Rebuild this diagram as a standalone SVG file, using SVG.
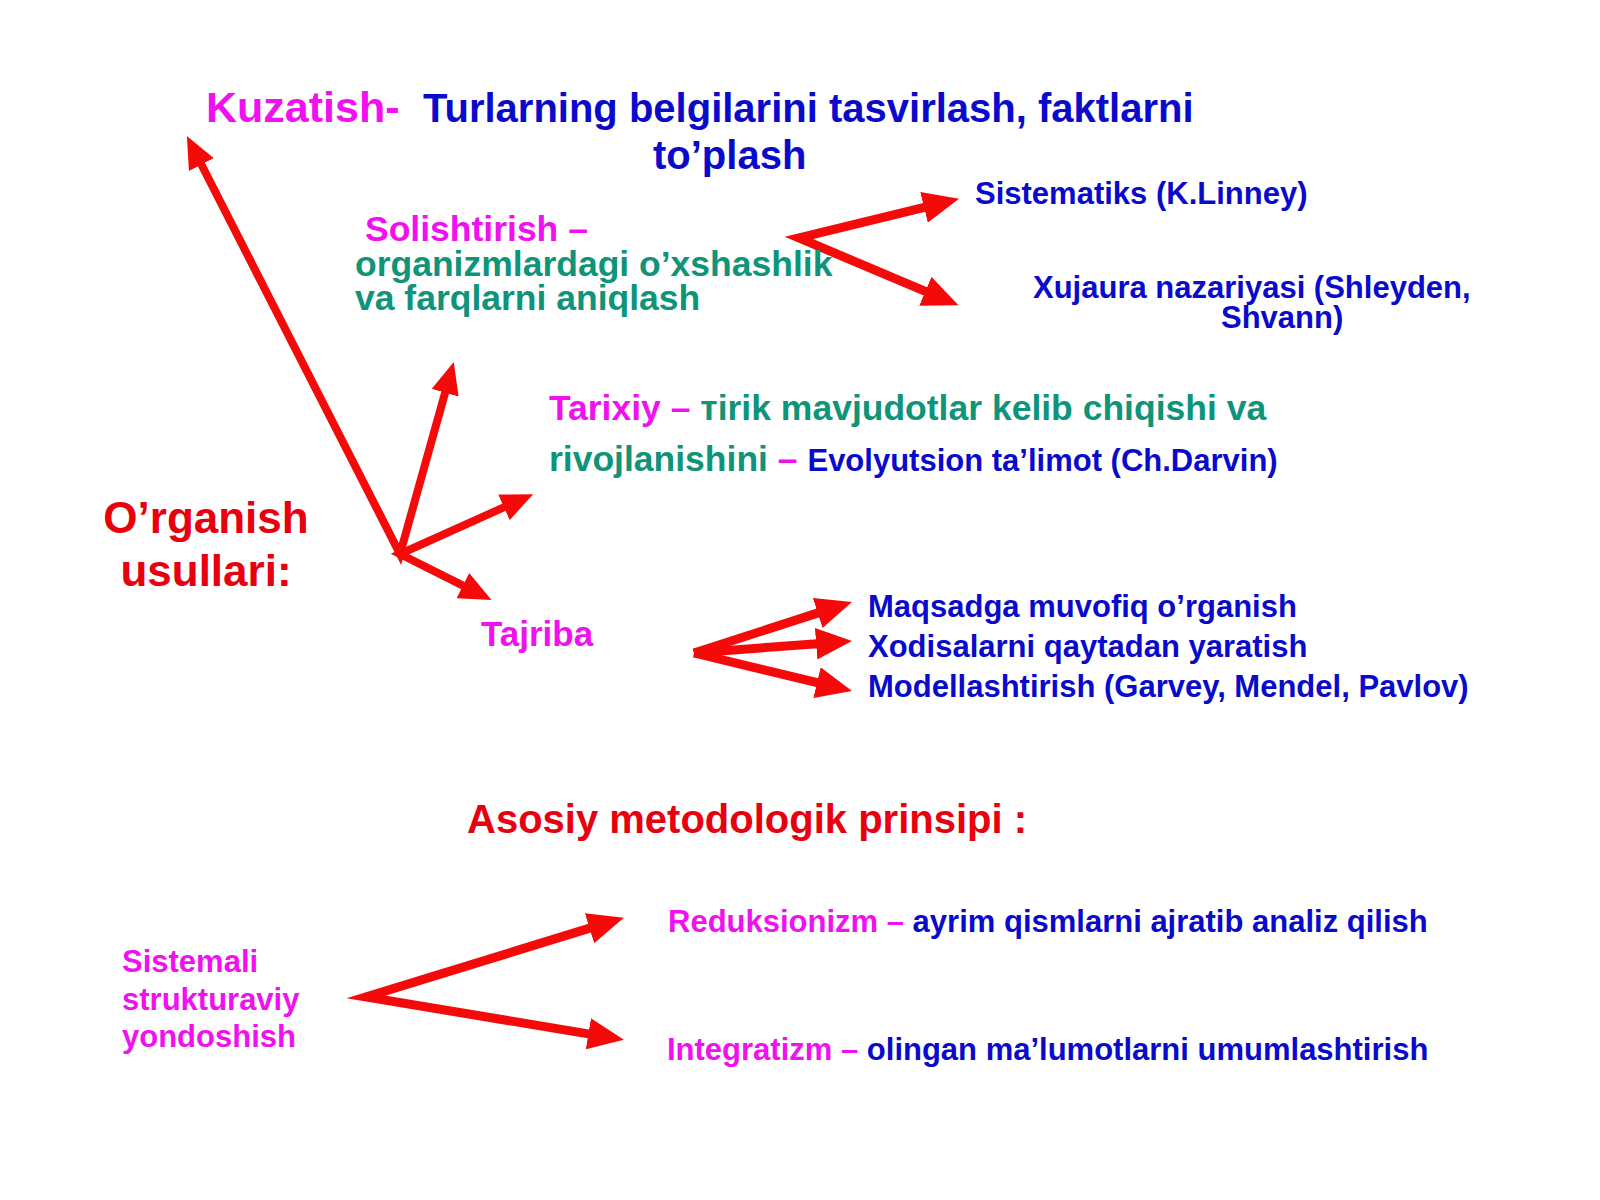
<svg xmlns="http://www.w3.org/2000/svg" width="1600" height="1200" viewBox="0 0 1600 1200">
<style>
text{font-family:"Liberation Sans",Arial,sans-serif;font-weight:bold}
.mg{fill:#F010F0}
.bl{fill:#0A0ACC}
.tl{fill:#0E9478}
.rd{fill:#E8000E}
.ar{fill:none;stroke:#F50A0A;stroke-linejoin:miter;stroke-miterlimit:10;marker-end:url(#ah)}
.ar2{marker-start:url(#ahs)}
</style>
<defs>
<marker id="ah" viewBox="0 0 4 3.5" markerWidth="4" markerHeight="3.5" refX="0.5" refY="1.75" orient="auto" markerUnits="strokeWidth"><path d="M0,0 L4,1.75 L0,3.5 z" fill="#F50A0A"/></marker>
<marker id="ahs" viewBox="0 0 4 3.5" markerWidth="4" markerHeight="3.5" refX="0.5" refY="1.75" orient="auto-start-reverse" markerUnits="strokeWidth"><path d="M0,0 L4,1.75 L0,3.5 z" fill="#F50A0A"/></marker>
</defs>
<rect width="1600" height="1200" fill="#FFFFFF"/>
<g id="connectors">
<path class="ar ar2" stroke-width="8" d="M199.6,161 L400,554 L446.2,388.9"/>
<path class="ar ar2" stroke-width="8" d="M507.6,505.7 L400,554 L466.5,587.4"/>
<path class="ar ar2" stroke-width="9" d="M928.4,206.3 L799,238 L929.5,293.1"/>
<path class="ar" stroke-width="9" d="M694,653 L822,611.6"/>
<path class="ar" stroke-width="9" d="M694,653 L820.6,643.4"/>
<path class="ar" stroke-width="9" d="M694,653 L821.4,683.7"/>
<path class="ar ar2" stroke-width="9" d="M593.8,926.9 L366,997 L592.8,1034.6"/>
</g>
<g id="kuzatish">
<text class="mg" x="206" y="122" font-size="43">Kuzatish-</text>
<text class="bl" x="423" y="122" font-size="40">Turlarning belgilarini tasvirlash, faktlarni</text>
<text class="bl" x="653" y="169" font-size="40">to’plash</text>
</g>
<g id="solishtirish">
<text class="mg" x="365" y="241" font-size="35.5">Solishtirish –</text>
<text class="tl" x="355" y="276" font-size="35.5">organizmlardagi o’xshashlik</text>
<text class="tl" x="355" y="310" font-size="35.5">va farqlarni aniqlash</text>
</g>
<g id="sistematiks">
<text class="bl" x="975" y="204" font-size="31">Sistematiks (K.Linney)</text>
</g>
<g id="xujaura">
<text class="bl" x="1033" y="298" font-size="31">Xujaura nazariyasi (Shleyden,</text>
<text class="bl" x="1221" y="328" font-size="31">Shvann)</text>
</g>
<g id="tarixiy">
<text x="549" y="420" font-size="35.5"><tspan class="mg">Tarixiy – </tspan><tspan class="tl">тirik mavjudotlar kelib chiqishi va</tspan></text>
<text x="549" y="471" font-size="35.5"><tspan class="tl">rivojlanishini</tspan><tspan class="mg"> – </tspan><tspan class="bl" font-size="31">Evolyutsion ta’limot (Ch.Darvin)</tspan></text>
</g>
<g id="organish">
<text class="rd" x="206" y="533" font-size="44" text-anchor="middle">O’rganish</text>
<text class="rd" x="206" y="586" font-size="44" text-anchor="middle">usullari:</text>
</g>
<g id="tajriba">
<text class="mg" x="481" y="646" font-size="35">Tajriba</text>
</g>
<g id="tajriba-items">
<text class="bl" x="868" y="617" font-size="31">Maqsadga muvofiq o’rganish</text>
<text class="bl" x="868" y="657" font-size="31">Xodisalarni qaytadan yaratish</text>
<text class="bl" x="868" y="697" font-size="31">Modellashtirish (Garvey, Mendel, Pavlov)</text>
</g>
<g id="asosiy">
<text class="rd" x="467" y="833" font-size="40">Asosiy metodologik prinsipi :</text>
</g>
<g id="sistemali">
<text class="mg" x="122" y="972" font-size="31">Sistemali</text>
<text class="mg" x="122" y="1010" font-size="31">strukturaviy</text>
<text class="mg" x="122" y="1047" font-size="31">yondoshish</text>
</g>
<g id="reduksionizm">
<text x="668" y="932" font-size="31"><tspan class="mg">Reduksionizm – </tspan><tspan class="bl">ayrim qismlarni ajratib analiz qilish</tspan></text>
</g>
<g id="integratizm">
<text x="667" y="1060" font-size="31"><tspan class="mg">Integratizm – </tspan><tspan class="bl">olingan ma’lumotlarni umumlashtirish</tspan></text>
</g>
</svg>
